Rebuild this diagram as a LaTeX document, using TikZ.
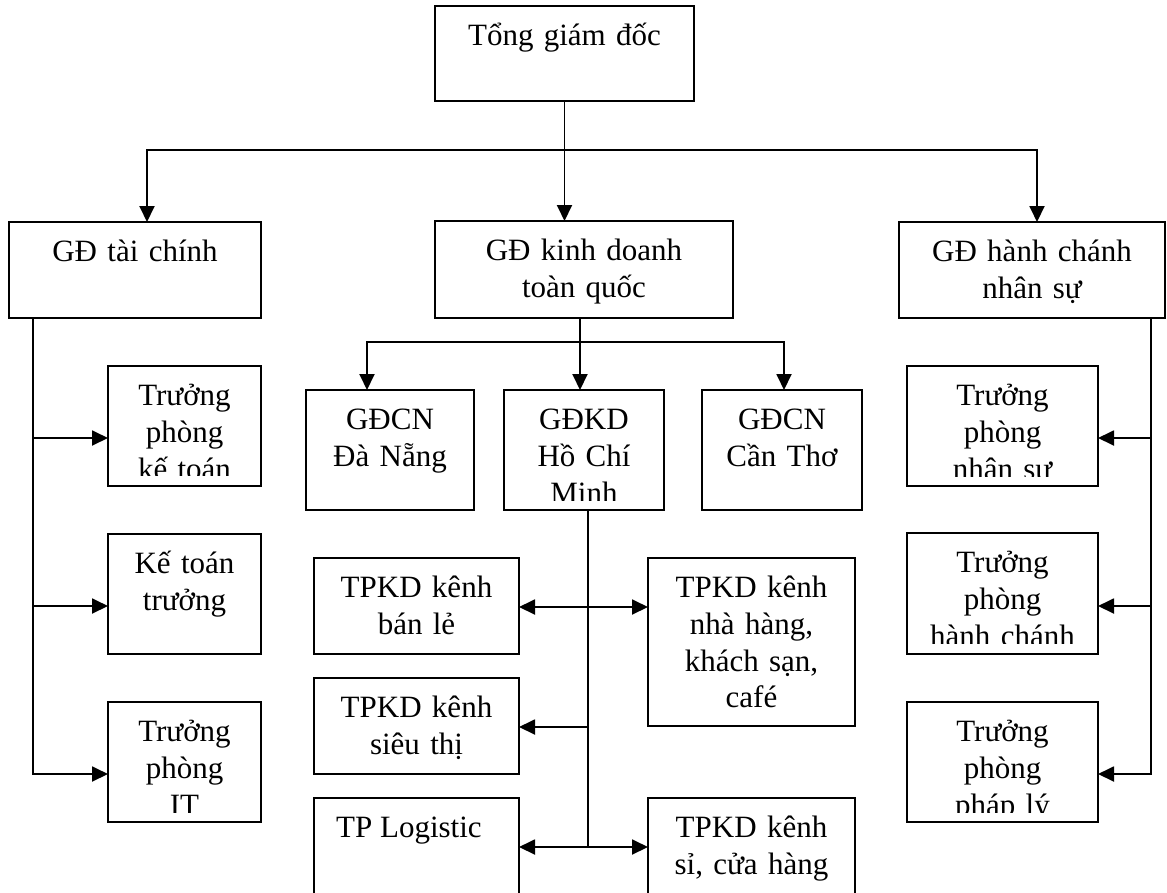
\documentclass[tikz,border=0pt]{standalone}
\usepackage{fontspec}
\setmainfont{Liberation Serif}
\usetikzlibrary{arrows.meta}
\begin{document}
\begin{tikzpicture}[x=1pt,y=-1pt,
  box/.style={draw, line width=2.2pt, rectangle, inner sep=0pt, outer sep=0pt, anchor=north west},
  boxtext/.style={anchor=base, inner sep=0pt, text width=#1, align=center, font=\fontsize{31}{36.8}\selectfont},
  conn/.style={line width=1.9pt},
  arr/.style={conn, -{Triangle[length=16pt,width=15pt]}},
  darr/.style={conn, {Triangle[length=16pt,width=15pt]}-{Triangle[length=16pt,width=15pt]}}]
\useasboundingbox (0,0) rectangle (1167,892);
\clip (0,0) rectangle (1167,892);

% ---- boxes ----
\node[box, minimum width=259pt, minimum height=95pt] (ceo) at (435,6) {};
\node[box, minimum width=252pt, minimum height=96pt] (tc)  at (9,222) {};
\node[box, minimum width=298pt, minimum height=97pt] (kd)  at (435,221) {};
\node[box, minimum width=266pt, minimum height=96pt] (hc)  at (899,222) {};

\node[box, minimum width=153pt, minimum height=120pt] (kt)  at (108,366) {};
\node[box, minimum width=153pt, minimum height=120pt] (ktt) at (108,534) {};
\node[box, minimum width=153pt, minimum height=120pt] (it)  at (108,702) {};

\node[box, minimum width=168pt, minimum height=120pt] (dn)  at (306,390) {};
\node[box, minimum width=160pt, minimum height=120pt] (hcm) at (504,390) {};
\node[box, minimum width=160pt, minimum height=120pt] (ct)  at (702,390) {};

\node[box, minimum width=205pt, minimum height=96pt]  (bl) at (314,558) {};
\node[box, minimum width=207pt, minimum height=168pt] (nh) at (648,558) {};
\node[box, minimum width=205pt, minimum height=96pt]  (st) at (314,678) {};
\node[box, minimum width=205pt, minimum height=140pt] (lg) at (314,798) {};
\node[box, minimum width=207pt, minimum height=140pt] (si) at (648,798) {};

\node[box, minimum width=191pt, minimum height=120pt] (ns)  at (907,366) {};
\node[box, minimum width=191pt, minimum height=121pt] (hch) at (907,533) {};
\node[box, minimum width=191pt, minimum height=120pt] (pl)  at (907,702) {};

% ---- box texts ----
\node[boxtext=250pt] at ([yshift=-39.5pt]ceo.north) {Tổng giám đốc};
\node[boxtext=250pt] at ([yshift=-39.5pt]tc.north) {GĐ tài chính};
\node[boxtext=290pt] at ([yshift=-39.5pt]kd.north) {GĐ kinh doanh\\toàn quốc};
\node[boxtext=265pt] at ([yshift=-39.5pt]hc.north) {GĐ hành chánh\\nhân sự};

\begin{scope}
  \clip (kt.north west) rectangle ([yshift=11pt]kt.south east);
  \node[boxtext=150pt] at ([yshift=-39.5pt]kt.north) {Trưởng\\phòng\\kế toán};
\end{scope}
\node[boxtext=150pt] at ([yshift=-39.5pt]ktt.north) {Kế toán\\trưởng};
\begin{scope}
  \clip (it.north west) rectangle ([yshift=10pt]it.south east);
  \node[boxtext=150pt] at ([yshift=-39.5pt]it.north) {Trưởng\\phòng\\IT};
\end{scope}

\node[boxtext=165pt] at ([yshift=-39.5pt]dn.north) {GĐCN\\Đà Nẵng};
\begin{scope}
  \clip (hcm.north west) rectangle ([yshift=10pt]hcm.south east);
  \node[boxtext=158pt] at ([yshift=-39.5pt]hcm.north) {GĐKD\\Hồ Chí\\Minh};
\end{scope}
\node[boxtext=158pt] at ([yshift=-39.5pt]ct.north) {GĐCN\\Cần Thơ};

\node[boxtext=200pt] at ([yshift=-39.5pt]bl.north) {TPKD kênh\\bán lẻ};
\node[boxtext=200pt] at ([yshift=-39.5pt]nh.north) {TPKD kênh\\nhà hàng,\\khách sạn,\\café};
\node[boxtext=200pt] at ([yshift=-39.5pt]st.north) {TPKD kênh\\siêu thị};
\node[anchor=base west, inner sep=0pt, font=\fontsize{31}{36.8}\selectfont]
  at ([xshift=22pt,yshift=-39.5pt]lg.north west) {TP Logistic};
\node[boxtext=200pt] at ([yshift=-39.5pt]si.north) {TPKD kênh\\sỉ, cửa hàng};

\begin{scope}
  \clip (ns.north west) rectangle ([yshift=10pt]ns.south east);
  \node[boxtext=190pt] at ([yshift=-39.5pt]ns.north) {Trưởng\\phòng\\nhân sự};
\end{scope}
\begin{scope}
  \clip (hch.north west) rectangle ([yshift=11pt]hch.south east);
  \node[boxtext=190pt] at ([yshift=-39.5pt]hch.north) {Trưởng\\phòng\\hành chánh};
\end{scope}
\begin{scope}
  \clip (pl.north west) rectangle ([yshift=10pt]pl.south east);
  \node[boxtext=190pt] at ([yshift=-39.5pt]pl.north) {Trưởng\\phòng\\pháp lý};
\end{scope}

% ---- top level connectors ----
\coordinate (busL) at (147,150);
\coordinate (busR) at (1037,150);
\draw[arr] (ceo.south) -- (ceo.south |- kd.north);
\draw[arr] (ceo.south |- busL) -- (busL) -- (busL |- tc.north);
\draw[arr] (ceo.south |- busR) -- (busR) -- (busR |- hc.north);

% ---- finance branch ----
\coordinate (fs) at (33,774);
\coordinate (f1) at (33,438);
\coordinate (f2) at (33,606);
\draw[arr] (fs |- tc.south) -- (fs) -- (fs -| it.west);
\draw[arr] (f1) -- (f1 -| kt.west);
\draw[arr] (f2) -- (f2 -| ktt.west);

% ---- HR branch ----
\coordinate (hs) at (1151,774);
\coordinate (h1) at (1151,438);
\coordinate (h2) at (1151,606);
\draw[arr] (hs |- hc.south) -- (hs) -- (hs -| pl.east);
\draw[arr] (h1) -- (h1 -| ns.east);
\draw[arr] (h2) -- (h2 -| hch.east);

% ---- sales branch ----
\coordinate (kb)  at (580,342);
\coordinate (kbL) at (367,342);
\coordinate (kbR) at (784,342);
\draw[arr] (kb |- kd.south) -- (kb |- hcm.north);
\draw[arr] (kb) -- (kbL) -- (kbL |- dn.north);
\draw[arr] (kb) -- (kbR) -- (kbR |- ct.north);

% ---- Ho Chi Minh channels ----
\coordinate (hb) at (588,847);
\coordinate (r1) at (588,607);
\coordinate (r2) at (588,727);
\draw[conn] (hb |- hcm.south) -- (hb);
\draw[darr] (r1 -| bl.east) -- (r1 -| nh.west);
\draw[arr] (r2) -- (r2 -| st.east);
\draw[darr] (hb -| lg.east) -- (hb -| si.west);
\end{tikzpicture}
\end{document}
